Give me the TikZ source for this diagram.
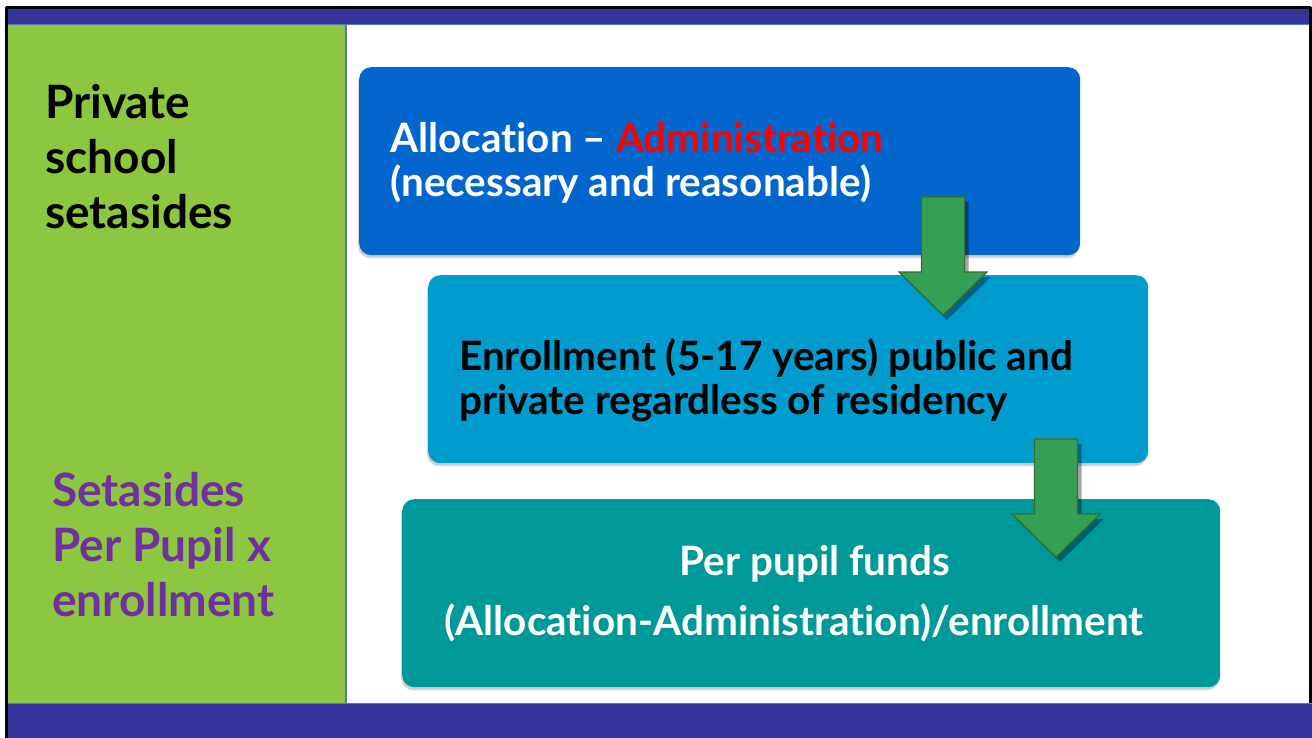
\documentclass[tikz,border=0pt]{standalone}
\usepackage{fontspec}
\setmainfont{Lato}[Ligatures=NoCommon]
\usetikzlibrary{shadows}
\definecolor{barblue}{HTML}{333399}
\definecolor{edgeblue}{HTML}{4F7DB5}
\definecolor{panelgreen}{HTML}{8DC63F}
\definecolor{boxblue}{HTML}{0366CC}
\definecolor{boxcyan}{HTML}{009CCD}
\definecolor{boxteal}{HTML}{009999}
\definecolor{arrowgreen}{HTML}{35A055}
\definecolor{arrowedge}{HTML}{3C6E2B}
\definecolor{setpurple}{HTML}{7030A0}
\tikzset{
  stepbox/.style={rounded corners=12pt, inner sep=0pt, anchor=north west,
    drop shadow={shadow xshift=-1pt, shadow yshift=-3pt, opacity=.35}},
  boxtext/.style={font=\bfseries\fontsize{40.5}{44}\selectfont, inner sep=0pt},
  sidetext/.style={font=\bfseries\fontsize{46}{55}\selectfont, align=left, inner sep=0pt, anchor=west},
  blockarrow/.style={fill=arrowgreen, draw=arrowedge, line width=1.2pt, line join=miter,
    drop shadow={shadow xshift=4pt, shadow yshift=-5pt, opacity=.35, fill=black}},
}
\begin{document}
\begin{tikzpicture}[x=1pt, y=-1pt, line join=round]
		\useasboundingbox (0,0) rectangle (1312,738);
		\fill[white] (0,0) rectangle (1312,738);
		%\draw[color=gray!50,dashed,step=50] (0,0) grid (1312,738);
		% frame, bars and side panel
		\draw[line width=3pt] (6.5,740) -- (6.5,7.5) -- (1310.5,7.5) -- (1310.5,740);
		\fill[barblue] (8,9) rectangle (1309,24);
		\draw[edgeblue, line width=1.5pt] (8,24.5) -- (1309,24.5);
		\fill[panelgreen] (8,25) rectangle (345.5,703);
		\draw[edgeblue, line width=1.2pt] (346,25) -- (346,703);
		\fill[barblue] (8,703) rectangle (1312,738);
		\draw[edgeblue, line width=1.5pt] (8,703.5) -- (1312,703.5);
		\node[sidetext] (private) at (45,157) {Private\\school\\setasides};
		\node[sidetext, setpurple] (perpupil) at (52,545) {Setasides\\Per Pupil x\\enrollment};
		% steps
		\node[stepbox, fill=boxblue, minimum width=721pt, minimum height=188pt] (alloc) at (359,67) {};
		\node[stepbox, fill=boxcyan, minimum width=720pt, minimum height=188pt] (enroll) at (428,275) {};
		\node[stepbox, fill=boxteal, minimum width=818pt, minimum height=188pt] (funds) at (402,499) {};
		\node[boxtext, white, align=left, anchor=west] (allocTxt) at (390,163)
			{Allocation – \textcolor{red}{Administration}\\(necessary and reasonable)};
		\node[boxtext, align=left, anchor=west] (enrollTxt) at (459,380)
			{Enrollment (5-17 years) public and\\private regardless of residency};
		\node[boxtext, white] (fundsTop) at (815,564) {Per pupil funds};
		\node[boxtext, white] (fundsBot) at (794,623) {(Allocation-Administration)/enrollment};
		% arrows
		\coordinate (arrA) at (943,197);
		\coordinate (arrB) at (1056,439);
		\foreach \a in {arrA,arrB}
			\draw[blockarrow, shift={(\a)}] (-21.5,0) -- (21.5,0) -- (21.5,75) -- (44,75) -- (0,118) -- (-44,75) -- (-21.5,75) -- cycle;
	\end{tikzpicture}
\end{document}
